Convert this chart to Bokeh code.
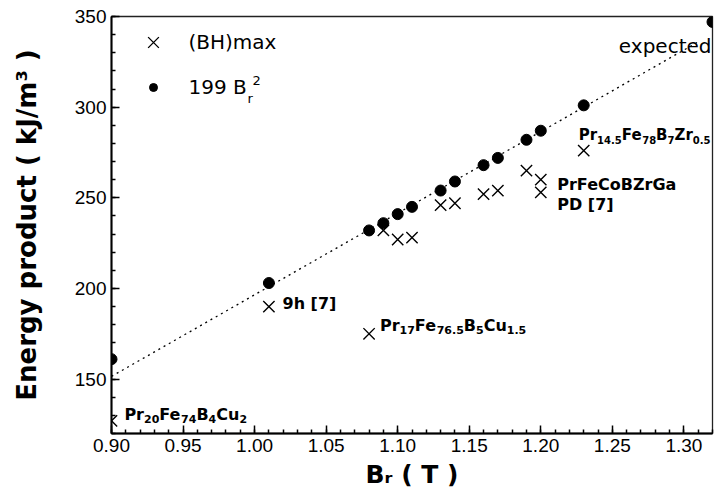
from bokeh.plotting import figure
from bokeh.models import (Range1d, FixedTicker, NumeralTickFormatter, Legend,
                          LegendItem, Label, ColumnDataSource)
from bokeh.core.properties import value
from bokeh.embed import file_html
from bokeh.resources import INLINE

# ---------------- data ----------------
bh_x = [0.90, 1.01, 1.08, 1.09, 1.10, 1.11, 1.13, 1.14, 1.16, 1.17, 1.19, 1.20, 1.20, 1.23]
bh_y = [127, 190, 175, 232, 227, 228, 246, 247, 252, 254, 265, 260, 253, 276]

calc_x = [0.90, 1.01, 1.08, 1.09, 1.10, 1.11, 1.13, 1.14, 1.16, 1.17, 1.19, 1.20, 1.23, 1.32]
calc_y = [161, 203, 232, 236, 241, 245, 254, 259, 268, 272, 282, 287, 301, 347]

fit_x = [0.90, 1.31]
fit_y = [151.5, 336.0]

x_ticks = [0.90, 0.95, 1.00, 1.05, 1.10, 1.15, 1.20, 1.25, 1.30]
x_minor = [0.90, 0.91, 0.92, 0.93, 0.94, 0.95, 0.96, 0.97, 0.98, 0.99, 1.00,
           1.01, 1.02, 1.03, 1.04, 1.05, 1.06, 1.07, 1.08, 1.09, 1.10,
           1.11, 1.12, 1.13, 1.14, 1.15, 1.16, 1.17, 1.18, 1.19, 1.20,
           1.21, 1.22, 1.23, 1.24, 1.25, 1.26, 1.27, 1.28, 1.29, 1.30, 1.31, 1.32]
y_ticks = [150, 200, 250, 300, 350]
y_minor = [120, 130, 140, 150, 160, 170, 180, 190, 200, 210, 220, 230, 240,
           250, 260, 270, 280, 290, 300, 310, 320, 330, 340, 350]

legend_labels = ["(BH)max", "199 B"]
legend_sub = "r"
legend_sup = "2"

x_title = "B\u1d63 ( T )"
y_title = "Energy product ( kJ/m\u00b3 )"

# annotation texts: parts starting with "_" are subscripts
note_parts = [
    ["Pr", "_20", "Fe", "_74", "B", "_4", "Cu", "_2"],
    ["9h [7]"],
    ["Pr", "_17", "Fe", "_76.5", "B", "_5", "Cu", "_1.5"],
    ["Pr", "_14.5", "Fe", "_78", "B", "_7", "Zr", "_0.5"],
    ["PrFeCoBZrGa"],
    ["PD [7]"],
]
note_x = [0.909, 1.0195, 1.0876, 1.2265, 1.2115, 1.2115]
note_y = [130.5, 191.5, 179.6, 284.4, 257.3, 246.3]
note_fs = [16, 16, 16, 15, 16, 16]

expected_text = "expected"
expected_x = 1.3193
expected_y = 334

# ---------------- styling helpers ----------------
W_BOLD = {' ': 0.348, '.': 0.380, '[': 0.457, ']': 0.457, 'B': 0.762, 'C': 0.734,
          'D': 0.830, 'F': 0.683, 'G': 0.821, 'P': 0.733, 'Z': 0.725, 'a': 0.675,
          'e': 0.678, 'h': 0.712, 'o': 0.687, 'r': 0.493, 'u': 0.712}
for d in "0123456789":
    W_BOLD[d] = 0.696

SUB_DY = 5


def text_width(s, size):
    return sum(W_BOLD.get(c, 0.65) for c in s) * size


seg = dict(x=[], y=[], text=[], xo=[], yo=[], fs=[])
for parts, ax, ay, mfs in zip(note_parts, note_x, note_y, note_fs):
    off = 0.0
    for part in parts:
        sub = part.startswith("_")
        t = part[1:] if sub else part
        fs = (mfs - 5) if sub else mfs
        seg["x"].append(ax)
        seg["y"].append(ay)
        seg["text"].append(t)
        seg["xo"].append(off)
        seg["yo"].append(SUB_DY if sub else 0)
        seg["fs"].append(f"{fs}px")
        off += text_width(t, fs)
src = ColumnDataSource(seg)

# ---------------- figure ----------------
p = figure(width=719, height=500, output_backend="svg", toolbar_location=None,
           x_range=Range1d(0.90, 1.32), y_range=Range1d(120, 350),
           min_border_left=111, min_border_right=7, min_border_top=16,
           min_border_bottom=67, background_fill_color="white",
           border_fill_color="white")
p.grid.visible = False
p.outline_line_color = "#222222"
p.outline_line_width = 1.3

# axes
p.xaxis.ticker = FixedTicker(ticks=x_ticks, minor_ticks=x_minor)
p.xaxis.formatter = NumeralTickFormatter(format="0.00")
p.yaxis.ticker = FixedTicker(ticks=y_ticks, minor_ticks=y_minor)
for ax in (p.xaxis[0], p.yaxis[0]):
    ax.axis_line_width = 2
    ax.axis_line_color = "black"
    ax.major_tick_in = 8
    ax.major_tick_out = 0
    ax.minor_tick_in = 4
    ax.minor_tick_out = 0
    ax.major_tick_line_width = 1.5
    ax.minor_tick_line_width = 1.5
    ax.major_tick_line_color = "black"
    ax.minor_tick_line_color = "black"
    ax.major_label_text_font = "Liberation Sans"
    ax.major_label_text_font_size = "19px"
    ax.major_label_text_color = "black"
    ax.major_label_standoff = 5
    ax.axis_label_text_font = "DejaVu Sans"
    ax.axis_label_text_font_style = "bold"
    ax.axis_label_text_color = "black"

p.yaxis.axis_label = y_title
p.yaxis.axis_label_text_font_size = "26px"
p.yaxis.axis_label_standoff = 30

p.xaxis.axis_label = x_title
p.xaxis.axis_label_text_font_size = "25px"
p.xaxis.axis_label_standoff = 5

# data marks
p.line(fit_x, fit_y, line_color="black", line_width=1.3, line_dash="2 4")
r_bh = p.scatter(bh_x, bh_y, marker="x", size=16, line_color="black", line_width=1.4)
r_calc = p.scatter(calc_x, calc_y, marker="circle", size=11,
                   fill_color="black", line_color="black")

# annotations
p.text(x="x", y="y", text="text", x_offset="xo", y_offset="yo", text_font_size="fs",
       text_font=value("DejaVu Sans"), text_font_style="bold",
       text_baseline="alphabetic", text_align="left", text_color="black", source=src)

p.add_layout(Label(x=expected_x, y=expected_y, text=expected_text, text_align="right",
                   text_baseline="alphabetic", text_font="DejaVu Sans",
                   text_font_size="20px", text_color="black"))

# legend (two single-item legends so each marker gets its own glyph box)
common = dict(padding=6, label_text_font="DejaVu Sans", label_text_font_size="20px",
              label_text_color="black", background_fill_alpha=0, border_line_alpha=0)
legend1 = Legend(items=[LegendItem(label=legend_labels[0], renderers=[r_bh])],
                 location=(16.5, 366.5), glyph_width=38, glyph_height=38,
                 label_height=38, label_standoff=17, **common)
legend2 = Legend(items=[LegendItem(label=legend_labels[1], renderers=[r_calc])],
                 location=(25.5, 327.5), glyph_width=20, glyph_height=26,
                 label_height=26, label_standoff=26, **common)
p.add_layout(legend1)
p.add_layout(legend2)
p.add_layout(Label(x=136, y=335, x_units="screen", y_units="screen", text=legend_sub,
                   text_font="DejaVu Sans", text_font_size="13px",
                   text_baseline="alphabetic", text_color="black"))
p.add_layout(Label(x=141, y=353, x_units="screen", y_units="screen", text=legend_sup,
                   text_font="DejaVu Sans", text_font_size="13px",
                   text_baseline="alphabetic", text_color="black"))

open("out.html", "w").write(file_html(p, INLINE))
